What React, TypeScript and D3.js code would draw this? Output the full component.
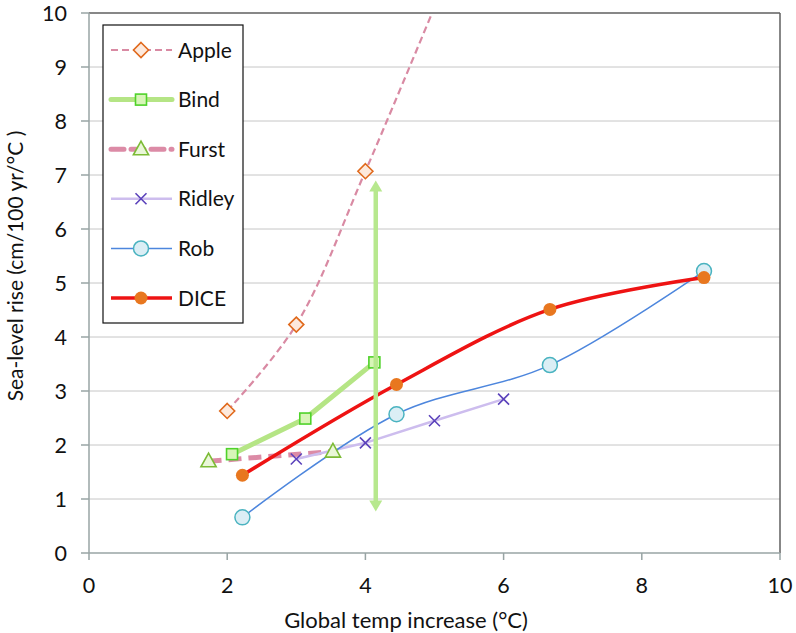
import React from "react";
import * as d3 from "d3";

const xTicks = [0, 2, 4, 6, 8, 10];
const yTicks = [0, 1, 2, 3, 4, 5, 6, 7, 8, 9, 10];

const appleX = [2, 3, 4, 6];
const appleY = [2.63, 4.23, 7.07, 13.2];
const bindX = [2.07, 3.13, 4.13];
const bindY = [1.83, 2.49, 3.53];
const furstX = [1.73, 3.53];
const furstY = [1.7, 1.88];
const ridleyX = [3, 4, 5, 6];
const ridleyY = [1.74, 2.04, 2.45, 2.85];
const robX = [2.22, 4.45, 6.67, 8.9];
const robY = [0.66, 2.57, 3.48, 5.22];
const diceX = [2.22, 4.45, 6.67, 8.9];
const diceY = [1.44, 3.12, 4.51, 5.1];
const arrowX = 4.15;
const arrowRange = [0.77, 6.9];

const seriesNames = ["Apple", "Bind", "Furst", "Ridley", "Rob", "DICE"];

const W = 796;
const H = 633;
const L = 89, R = 780, T = 13, B = 553;
const FONT = "Lato, 'Open Sans', sans-serif";

type Style = {
  line: string; lw: number; dash?: string; smooth: boolean;
  marker: "diamond" | "square" | "triangle" | "x" | "circle" | "dot";
  mfill: string; mstroke: string;
};

const styles: Record<string, Style> = {
  Apple: { line: "#d98aa3", lw: 2.2, dash: "7,4", smooth: true, marker: "diamond", mfill: "#fde9dc", mstroke: "#e0691c" },
  Bind: { line: "#b5e585", lw: 5, smooth: false, marker: "square", mfill: "#d8f5b8", mstroke: "#4fd22a" },
  Furst: { line: "#dc8ba6", lw: 5, dash: "13,7", smooth: true, marker: "triangle", mfill: "#eaf7d8", mstroke: "#7cbb36" },
  Ridley: { line: "#cdbdee", lw: 2.5, smooth: false, marker: "x", mfill: "none", mstroke: "#5b42bb" },
  Rob: { line: "#4d86dd", lw: 1.5, smooth: true, marker: "circle", mfill: "#dbeef5", mstroke: "#4ab3c0" },
  DICE: { line: "#ee1313", lw: 3.5, smooth: true, marker: "dot", mfill: "#e8771f", mstroke: "#e8771f" },
};

const dataMap: Record<string, [number[], number[]]> = {
  Apple: [appleX, appleY],
  Bind: [bindX, bindY],
  Furst: [furstX, furstY],
  Ridley: [ridleyX, ridleyY],
  Rob: [robX, robY],
  DICE: [diceX, diceY],
};

function Marker({ type, cx, cy, s }: { type: Style["marker"]; cx: number; cy: number; s: Style }) {
  switch (type) {
    case "diamond": {
      const r = 7.5;
      return <path d={`M${cx},${cy - r}L${cx + r},${cy}L${cx},${cy + r}L${cx - r},${cy}Z`} fill={s.mfill} stroke={s.mstroke} strokeWidth={1.6} />;
    }
    case "square": {
      const r = 5.5;
      return <rect x={cx - r} y={cy - r} width={2 * r} height={2 * r} fill={s.mfill} stroke={s.mstroke} strokeWidth={1.6} />;
    }
    case "triangle": {
      const r = 8;
      return <path d={`M${cx},${cy - r}L${cx + r * 0.95},${cy + r * 0.7}L${cx - r * 0.95},${cy + r * 0.7}Z`} fill={s.mfill} stroke={s.mstroke} strokeWidth={1.6} />;
    }
    case "x": {
      const r = 5.5;
      return <path d={`M${cx - r},${cy - r}L${cx + r},${cy + r}M${cx - r},${cy + r}L${cx + r},${cy - r}`} stroke={s.mstroke} strokeWidth={1.6} fill="none" />;
    }
    case "circle":
      return <circle cx={cx} cy={cy} r={7.5} fill={s.mfill} stroke={s.mstroke} strokeWidth={1.5} />;
    case "dot":
      return <circle cx={cx} cy={cy} r={6.5} fill={s.mfill} stroke="none" />;
  }
}

export default function App() {
  const x = d3.scaleLinear().domain([0, 10]).range([L, R]);
  const y = d3.scaleLinear().domain([0, 10]).range([B, T]);

  const lines = seriesNames.map((name) => {
    const s = styles[name];
    const [xs, ys] = dataMap[name];
    const pts: [number, number][] = xs.map((v, i) => [x(v), y(ys[i])]);
    const gen = d3.line().curve(s.smooth ? d3.curveCatmullRom.alpha(0.5) : d3.curveLinear);
    return { name, s, pts, d: gen(pts) || "" };
  });

  const ax = x(arrowX);
  const ay0 = y(arrowRange[0]);
  const ay1 = y(arrowRange[1]);
  const ah = 11, aw = 6.5;
  const arrowColor = "#b7e88e";

  const legendX = 103, legendY = 25, legendW = 140, legendH = 298;
  const legendStep = 49.6;

  return (
    <svg width={W} height={H} style={{ position: "absolute", left: 0, top: 0, background: "#fff" }} fontFamily={FONT}>
      <defs>
        <clipPath id="plot">
          <rect x={L} y={T} width={R - L} height={B - T} />
        </clipPath>
      </defs>
      <rect x={0} y={0} width={W} height={H} fill="#fff" />
      {yTicks.filter((t) => t > 0 && t < 10).map((t) => (
        <line key={t} x1={L} x2={R} y1={y(t)} y2={y(t)} stroke="#c6c6c6" strokeWidth={1} />
      ))}
      <line x1={L} x2={R} y1={T} y2={T} stroke="#5f5f5f" strokeWidth={1.5} />
      <line x1={R} x2={R} y1={T} y2={B} stroke="#5f5f5f" strokeWidth={1.5} />
      <line x1={L} x2={L} y1={T} y2={B} stroke="#98a4a4" strokeWidth={1.5} />
      <line x1={L} x2={R} y1={B} y2={B} stroke="#98a4a4" strokeWidth={1.5} />
      {yTicks.map((t) => (
        <g key={t}>
          <line x1={L - 8} x2={L} y1={y(t)} y2={y(t)} stroke="#98a4a4" strokeWidth={1.5} />
          <text x={67} y={y(t)} dy="0.36em" textAnchor="end" fontSize={21.5} fill="#111">{t}</text>
        </g>
      ))}
      {xTicks.map((t) => (
        <g key={t}>
          <line x1={x(t)} x2={x(t)} y1={B} y2={B + 7} stroke="#98a4a4" strokeWidth={1.5} />
          <text x={x(t)} y={593} textAnchor="middle" fontSize={21.5} fill="#111">{t}</text>
        </g>
      ))}
      <text x={406} y={628} textAnchor="middle" fontSize={22} fill="#111">Global temp increase (°C)</text>
      <text transform={`translate(23,266) rotate(-90)`} textAnchor="middle" fontSize={21} fill="#111">Sea-level rise (cm/100 yr/°C )</text>

      <g clipPath="url(#plot)">
        {lines.map((l) => (
          <path key={l.name} d={l.d} fill="none" stroke={l.s.line} strokeWidth={l.s.lw} strokeDasharray={l.s.dash} strokeLinejoin="round" />
        ))}
        {lines.map((l) => (
          <g key={l.name + "m"}>
            {l.pts.map((p, i) => (
              <Marker key={i} type={l.s.marker} cx={p[0]} cy={p[1]} s={l.s} />
            ))}
          </g>
        ))}
      </g>

      <line x1={ax} x2={ax} y1={ay1 + ah - 1} y2={ay0 - ah + 1} stroke={arrowColor} strokeWidth={4.5} />
      <path d={`M${ax},${ay1}L${ax + aw},${ay1 + ah}L${ax - aw},${ay1 + ah}Z`} fill={arrowColor} />
      <path d={`M${ax},${ay0}L${ax + aw},${ay0 - ah}L${ax - aw},${ay0 - ah}Z`} fill={arrowColor} />

      <rect x={legendX} y={legendY} width={legendW} height={legendH} fill="#fff" stroke="#111" strokeWidth={1.2} />
      {seriesNames.map((name, i) => {
        const s = styles[name];
        const cy = legendY + 25 + i * legendStep;
        return (
          <g key={name}>
            <line x1={111} x2={172} y1={cy} y2={cy} stroke={s.line} strokeWidth={s.lw} strokeDasharray={s.dash} strokeLinecap={s.lw >= 4 ? "round" : "butt"} />
            <Marker type={s.marker} cx={141} cy={cy} s={s} />
            <text x={178} y={cy} dy="0.36em" fontSize={21} fill="#111">{name}</text>
          </g>
        );
      })}
    </svg>
  );
}
